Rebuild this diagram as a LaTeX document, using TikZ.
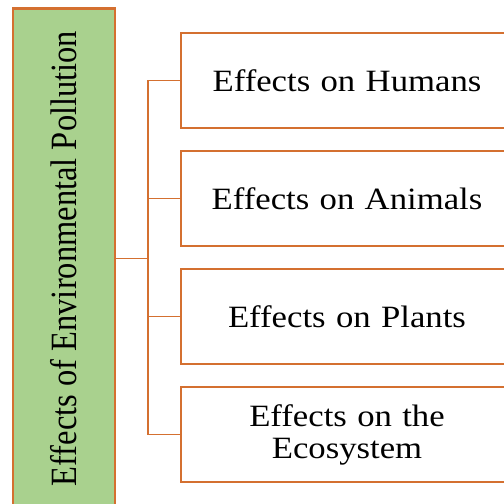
\documentclass[tikz,border=0pt]{standalone}
\usepackage{fontspec}
\setmainfont{Liberation Serif}
\newfontfamily\widefont[FakeStretch=1.12]{Liberation Serif}
\usepackage{tikz}
\usetikzlibrary{positioning}
\usepackage{xcolor}
\definecolor{pollorange}{RGB}{212,112,48}
\definecolor{pollgreen}{RGB}{169,209,142}

\begin{document}
\begin{tikzpicture}[
    x=1pt, y=-1pt,
    node distance=20.5pt,
    rootbox/.style={rectangle, draw=pollorange, fill=pollgreen, line width=2.5pt, minimum width=102pt, minimum height=500pt, inner sep=0pt},
    effbox/.style={rectangle, draw=pollorange, fill=white, line width=2.5pt, minimum width=332pt, minimum height=95pt, inner sep=0pt, text width=320pt, align=center, font=\fontsize{31}{32}\widefont},
    link/.style={draw=pollorange, line width=1.6pt},
]
    \useasboundingbox (0,0) rectangle (504,504);

    % Root (left, rotated)
    \node[rootbox] (root) at (64,258.5) {};
    \node[rotate=90, yscale=1.14, font=\fontsize{32.5}{34}\selectfont] (roottext) at (root.center) {Effects of Environmental Pollution};

    % Effect boxes
    \node[effbox] (humans) at (347,80.5) {Effects on Humans};
    \node[effbox, below=of humans] (animals) {Effects on Animals};
    \node[effbox, below=of animals] (plants) {Effects on Plants};
    \node[effbox, below=of plants] (ecosys) {Effects on the\\Ecosystem};

    % Connectors
    \coordinate (trunk) at (148,258.5);
    \draw[link] (root.east) -- (trunk);
    \foreach \b in {humans, animals, plants, ecosys}
        \draw[link] (trunk) |- (\b.west);
\end{tikzpicture}
\end{document}
